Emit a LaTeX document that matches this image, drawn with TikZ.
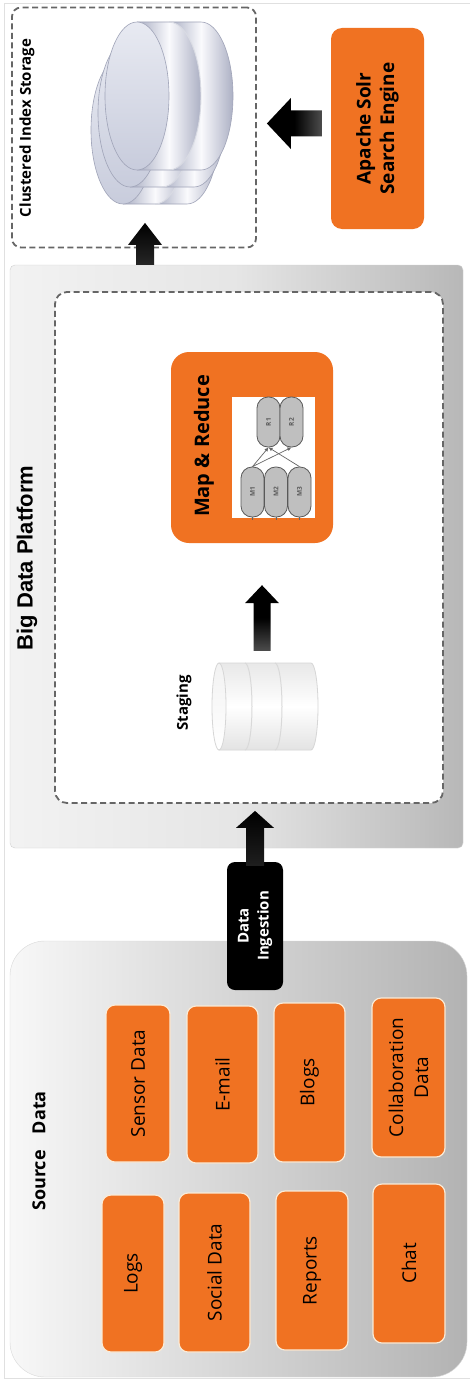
\documentclass[tikz,border=0pt]{standalone}
\usepackage{fontspec}
\setmainfont{Open Sans}
\newfontfamily\headfont{Liberation Sans}
\usetikzlibrary{calc,arrows.meta}

\definecolor{brandorange}{RGB}{240,114,34}
\definecolor{boxrim}{RGB}{250,235,215}
\definecolor{facetop}{RGB}{232,234,242}
\definecolor{facebot}{RGB}{200,204,220}
\definecolor{banddark}{RGB}{168,173,194}
\definecolor{bandlight}{RGB}{250,250,253}
\definecolor{bandmid}{RGB}{172,176,196}
\definecolor{discline}{RGB}{160,164,184}

% block arrow pointing up: tail, tip, shaft half width, head half width, head length, shading
\newcommand\upblock[6]{%
  \shade[#6] let \p1=(#1), \p2=(#2) in
    (\x1-#3,\y1) -- (\x1-#3,\y2-#5) -- (\x1-#4,\y2-#5) -- (\x1,\y2)
    -- (\x1+#4,\y2-#5) -- (\x1+#3,\y2-#5) -- (\x1+#3,\y1) -- cycle;}
% block arrow pointing left
\newcommand\leftblock[6]{%
  \shade[#6] let \p1=(#1), \p2=(#2) in
    (\x1,\y1+#3) -- (\x2+#5,\y1+#3) -- (\x2+#5,\y1+#4) -- (\x2,\y1)
    -- (\x2+#5,\y1-#4) -- (\x2+#5,\y1-#3) -- (\x1,\y1-#3) -- cycle;}

\tikzset{
  dashedframe/.style={draw=black!60, line width=1.8pt, dash pattern=on 6pt off 3.5pt},
  orangebox/.style={fill=brandorange, draw=none, inner sep=0pt},
  srcbox/.style={fill=brandorange, draw=boxrim, line width=1.2pt, rounded corners=9pt,
    rotate=90, inner sep=0pt, align=center, font=\fontsize{19}{25}\selectfont},
  pill/.style={draw=black!65, fill=black!25, line width=0.8pt, rounded corners=11pt,
    rotate=90, minimum width=50pt, minimum height=23pt, inner sep=0pt,
    font=\bfseries\fontsize{6.5}{7}\selectfont, text=black!65},
  mredge/.style={draw=black!60, line width=0.7pt, -{Latex[length=4pt,width=4pt]}},
  discband/.style={left color=banddark, right color=bandmid, middle color=bandlight},
  pics/discstack/.style={code={
    \shade[discband]
      (0,-74) -- (32,-74) arc[start angle=-90,end angle=90,x radius=32,y radius=74]
      -- (0,74) arc[start angle=90,end angle=-90,x radius=32,y radius=74] -- cycle;
    \shade[discband]
      (32,-74) -- (64,-74) arc[start angle=-90,end angle=90,x radius=32,y radius=74]
      -- (32,74) arc[start angle=90,end angle=-90,x radius=32,y radius=74] -- cycle;
    \draw[discline, line width=0.6pt] (0,-74) -- (64,-74)
      arc[start angle=-90,end angle=90,x radius=32,y radius=74] -- (0,74);
    \draw[white!60!discline, line width=0.9pt] (32,-74) arc[start angle=-90,end angle=90,x radius=32,y radius=74];
    \shade[top color=facetop, bottom color=facebot, draw=discline, line width=0.6pt]
      (0,0) ellipse[x radius=32, y radius=74];
  }}
}

\begin{document}
\begin{tikzpicture}[x=1pt,y=-1pt]
\useasboundingbox (0,0) rectangle (470,1386);
\fill[white] (0,0) rectangle (470,1386);
% faint outer frame
\draw[black!12, line width=0.8pt] (4,1378) -- (4,3) -- (470,3);
\draw[black!12, line width=0.8pt] (4,1378) -- (470,1378);

% ---------- index storage ----------
\node[dashedframe, minimum width=244pt, minimum height=240pt, rounded corners=9pt] (store) at (134,127.5) {};
\node[rotate=90, font=\bfseries\fontsize{15}{18}\selectfont] (storelbl) at (27,128) {Clustered Index Storage};
\pic at (123,130) {discstack};
\pic at (130,113) {discstack};
\pic at (137,96) {discstack};

% ---------- search engine ----------
\node[orangebox, rotate=90, minimum width=201pt, minimum height=93pt, rounded corners=11pt,
  font=\bfseries\fontsize{19}{23.5}\selectfont, align=center] (solr) at (377.5,128.5) {Apache Solr\\Search Engine};
\leftblock{$(solr.north)+(-9,-5)$}{$(store.east)+(10,-5)$}{13pt}{25.5pt}{24pt}{left color=black, right color=black!70, middle color=black}

% ---------- big data platform ----------
\node[draw=black!18, left color=black!5, right color=black!28, middle color=black!10,
  minimum width=453pt, minimum height=583pt, rounded corners=5pt] (plat) at (236.5,556.5) {};
\node[rotate=90, font=\headfont\bfseries\fontsize{22}{26}\selectfont] (platlbl) at (27,558) {Big Data Platform};
\node[dashedframe, fill=white, minimum width=388pt, minimum height=511pt, rounded corners=12pt] (inner) at (249,547.5) {};

\upblock{$(plat.north)+(-91.5,0)$}{$(store.south)+(11,-25.5)$}{9pt}{17pt}{22pt}{top color=black, bottom color=black!85}

% map & reduce
\node[orangebox, minimum width=162pt, minimum height=191pt, rounded corners=18pt] (mr) at (252,447.5) {};
\node[rotate=90, font=\bfseries\fontsize{20}{24}\selectfont] (mrlbl) at (204,446) {Map \& Reduce};
\node[fill=white, minimum width=83pt, minimum height=121pt, inner sep=0pt] (mrpanel) at (273.5,457.5) {};
\node[pill] (r1) at (268.5,422) {R1};
\node[pill] (r2) at (291.5,422) {R2};
\node[pill] (m1) at (252.5,492) {M1};
\node[pill] (m2) at (276,492) {M2};
\node[pill] (m3) at (299.5,492) {M3};
\draw[mredge] (m1.east) -- (r1.west);
\draw[mredge] (m1.east) -- (r2.west);
\draw[mredge] (m3.east) -- (r1.west);
\draw[black!60, line width=0.7pt] (m1.west) -- ++(0,3) (m2.west) -- ++(0,3) (m3.west) -- ++(0,3);

% staging store
\node[minimum width=106pt, minimum height=87pt, inner sep=0pt] (stg) at (265,706.5) {};
\shade[top color=black!9, bottom color=black!11, middle color=white, draw=black!16, line width=0.8pt]
  (219,663) -- (311,663) arc[start angle=-90,end angle=90,x radius=7,y radius=43.5] -- (219,750) -- cycle;
\draw[black!15, line width=1pt] (245,663) arc[start angle=-90,end angle=90,x radius=7,y radius=43.5];
\draw[black!15, line width=1pt] (275,663) arc[start angle=-90,end angle=90,x radius=7,y radius=43.5];
\shade[top color=black!5, bottom color=white, draw=black!16, line width=0.8pt] (219,706.5) ellipse[x radius=7, y radius=43.5];
\node[rotate=90, font=\bfseries\fontsize{15}{18}\selectfont] (stglbl) at (184,703) {Staging};

\upblock{$(stg.north)+(-3,-12)$}{$(mr.south)+(10,42)$}{8.5pt}{17pt}{18pt}{top color=black, bottom color=black!70, middle color=black}

% ---------- source data ----------
\node[draw=black!15, left color=black!3, right color=black!30,
  minimum width=457pt, minimum height=436pt, rounded corners=35pt] (src) at (238.5,1159) {};
\node[rotate=90, font=\bfseries\fontsize{18}{22}\selectfont] (srclbl) at (39,1151) {Source\hspace{0.9em}Data};

\node[srcbox, minimum width=157pt, minimum height=64pt] (sensor) at (138,1083.5) {Sensor Data};
\node[srcbox, minimum width=157pt, minimum height=62pt] (logs) at (133,1273.5) {Logs};
\node[srcbox, minimum width=157pt, minimum height=71pt] (email) at (222.5,1084.5) {E-mail};
\node[srcbox, minimum width=159pt, minimum height=71pt] (social) at (214.5,1272.5) {Social Data};
\node[srcbox, minimum width=159pt, minimum height=71pt] (blogs) at (309.5,1082.5) {Blogs};
\node[srcbox, minimum width=159pt, minimum height=72pt] (reports) at (312,1270.5) {Reports};
\node[srcbox, minimum width=159pt, minimum height=73pt] (collab) at (408.5,1077.5) {Collaboration\\Data};
\node[srcbox, minimum width=159pt, minimum height=72pt] (chat) at (409,1263.5) {Chat};

% ---------- ingestion ----------
\node[fill=black, rotate=90, minimum width=128pt, minimum height=56pt, rounded corners=8pt,
  inner sep=0pt, text=white, align=center, font=\bfseries\fontsize{15}{20}\selectfont] (ingest) at (255,926) {Data\\Ingestion};
\upblock{$(ingest.east)+(0,4)$}{$(inner.south)+(6,7)$}{9pt}{19pt}{17pt}{top color=black, bottom color=black!88}
\end{tikzpicture}
\end{document}
